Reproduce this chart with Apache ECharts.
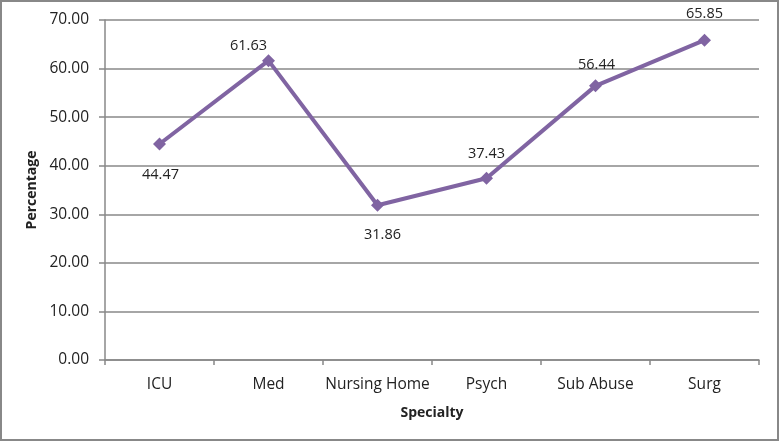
<!DOCTYPE html>
<html><head><meta charset="utf-8">
<script src="https://cdn.jsdelivr.net/npm/echarts@6/dist/echarts.min.js"></script>
<style>html,body{margin:0;padding:0;background:#fff}#c{width:779px;height:441px}</style>
</head><body><div id="c"></div>
<script>
const categories = ["ICU", "Med", "Nursing Home", "Psych", "Sub Abuse", "Surg"];
const values = [44.47, 61.63, 31.86, 37.43, 56.44, 65.85];
const labelPositions = ["bottom", "top", "bottom", "top", "top", "top"];
const labelOffsets = [[1, 5], [-20, 11], [5, 4], [0, 2], [1, 5], [0, 0]];
const yTicks = { min: 0, max: 70, interval: 10 };

const chart = echarts.init(document.getElementById('c'), null, {renderer: 'canvas'});
const font = "'Open Sans', 'Liberation Sans', sans-serif";
chart.setOption({
  animation: false,
  backgroundColor: '#fff',
  textStyle: { fontFamily: font },
  graphic: [{ type: 'rect', shape: { x: 1, y: 1, width: 777, height: 439 },
    style: { fill: 'none', stroke: '#888', lineWidth: 2 }, silent: true }],
  grid: { left: 105, right: 20, top: 20, bottom: 81 },
  xAxis: {
    type: 'category', data: categories, boundaryGap: true,
    name: 'Specialty', nameLocation: 'middle', nameGap: 46,
    nameTextStyle: { fontWeight: 'bold', fontSize: 14, color: '#222', fontFamily: font },
    axisLine: { lineStyle: { color: '#888', width: 1.5 } },
    axisTick: { show: true, alignWithLabel: false, length: 5, lineStyle: { color: '#888', width: 1.5 } },
    axisLabel: { color: '#222', fontSize: 15.5, margin: 17, fontFamily: font, interval: 0 }
  },
  yAxis: {
    type: 'value', min: yTicks.min, max: yTicks.max, interval: yTicks.interval,
    name: 'Percentage', nameLocation: 'middle', nameGap: 58, nameRotate: 90,
    nameTextStyle: { fontWeight: 'bold', fontSize: 14, color: '#222', fontFamily: font },
    axisLine: { show: true, lineStyle: { color: '#888', width: 1.5 } },
    axisTick: { show: true, length: 6, lineStyle: { color: '#888', width: 1.5 } },
    splitLine: { lineStyle: { color: '#888', width: 1.5 } },
    axisLabel: { color: '#222', fontSize: 15.5, margin: 16, fontFamily: font,
      formatter: v => v.toFixed(2) }
  },
  series: [{
    type: 'line',
    data: values.map((v, i) => ({ value: v,
      label: { position: labelPositions[i], offset: labelOffsets[i] } })),
    symbol: 'diamond', symbolSize: 13,
    lineStyle: { color: '#8064A2', width: 4 },
    itemStyle: { color: '#8064A2' },
    label: { show: true, color: '#222', fontSize: 14.5, distance: 12, fontFamily: font,
      formatter: p => p.value.toFixed(2) }
  }]
});
</script></body></html>
